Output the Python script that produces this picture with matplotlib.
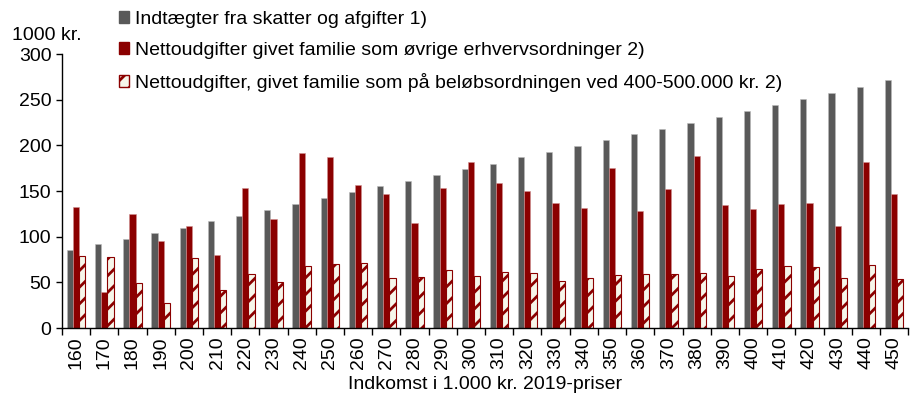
import matplotlib
matplotlib.use("Agg")
import matplotlib.pyplot as plt
import numpy as np
from matplotlib.patches import Patch

plt.rcParams['font.family'] = ['Liberation Sans', 'DejaVu Sans']
plt.rcParams['hatch.linewidth'] = 2.0

categories = [160, 170, 180, 190, 200, 210, 220, 230, 240, 250, 260, 270, 280, 290, 300,
              310, 320, 330, 340, 350, 360, 370, 380, 390, 400, 410, 420, 430, 440, 450]
skatter = [85, 92, 98, 104, 110, 117, 123, 129, 136, 142, 149, 155, 161, 168, 174,
           180, 187, 193, 199, 206, 212, 218, 225, 231, 238, 244, 251, 257, 264, 271]
oevrige = [132, 39, 125, 95, 112, 80, 153, 119, 192, 187, 157, 147, 115, 153, 182,
           159, 150, 137, 131, 175, 128, 152, 188, 135, 130, 136, 137, 112, 182, 147]
beloeb = [79, 78, 49, 27, 77, 42, 59, 50, 68, 70, 71, 55, 56, 63, 57,
          61, 60, 52, 55, 58, 59, 59, 60, 57, 65, 68, 67, 55, 69, 54]

labels = ["Indtægter fra skatter og afgifter 1)",
          "Nettoudgifter givet familie som øvrige erhvervsordninger 2)",
          "Nettoudgifter, givet familie som på beløbsordningen ved 400-500.000 kr. 2)"]

gray = '#595959'
red = '#8B0000'
fs = 14

fig = plt.figure(figsize=(9.1, 4.03), dpi=100)
ax = fig.add_axes([0.068, 0.186, 0.93, 0.68])

x = np.arange(len(categories))
w = 0.22
ax.bar(x - w, skatter, w, color=gray, edgecolor='#bbbbbb', linewidth=0.4)
ax.bar(x, oevrige, w, color=red, edgecolor='#d09090', linewidth=0.4)
ax.bar(x + w, beloeb, w, color='#f6f6ea', edgecolor=red, hatch='//', linewidth=0.8)

ax.set_xlim(-0.5, len(categories) - 0.5)
ax.set_ylim(0, 300)
ax.set_yticks(np.arange(0, 301, 50))
ax.set_xticks(x)
ax.set_xticklabels([str(c) for c in categories], rotation=90, fontsize=fs)
ax.set_xticks(np.arange(-0.5, len(categories), 1), minor=True)
ax.tick_params(axis='x', which='major', length=0, pad=6)
ax.tick_params(axis='x', which='minor', length=5, width=1, direction='out')
ax.tick_params(axis='y', labelsize=fs, length=4, width=1, direction='out')
for s in ['top', 'right']:
    ax.spines[s].set_visible(False)
ax.spines['left'].set_linewidth(1)
ax.spines['bottom'].set_linewidth(1)

ax.set_xlabel("Indkomst i 1.000 kr. 2019-priser", fontsize=fs, labelpad=5)
fig.text(0.013, 0.912, "1000 kr.", fontsize=fs, ha='left', va='center')

handles = [Patch(facecolor=gray, edgecolor=gray),
           Patch(facecolor=red, edgecolor=red),
           Patch(facecolor='#f6f6ea', edgecolor=red, hatch='//')]
fig.legend(handles, labels, loc='upper left', bbox_to_anchor=(0.122, 0.993),
           frameon=False, fontsize=fs, handlelength=0.55, handleheight=0.55,
           handletextpad=0.3, labelspacing=0.72, borderaxespad=0)

fig.savefig("out.png", dpi=100)
